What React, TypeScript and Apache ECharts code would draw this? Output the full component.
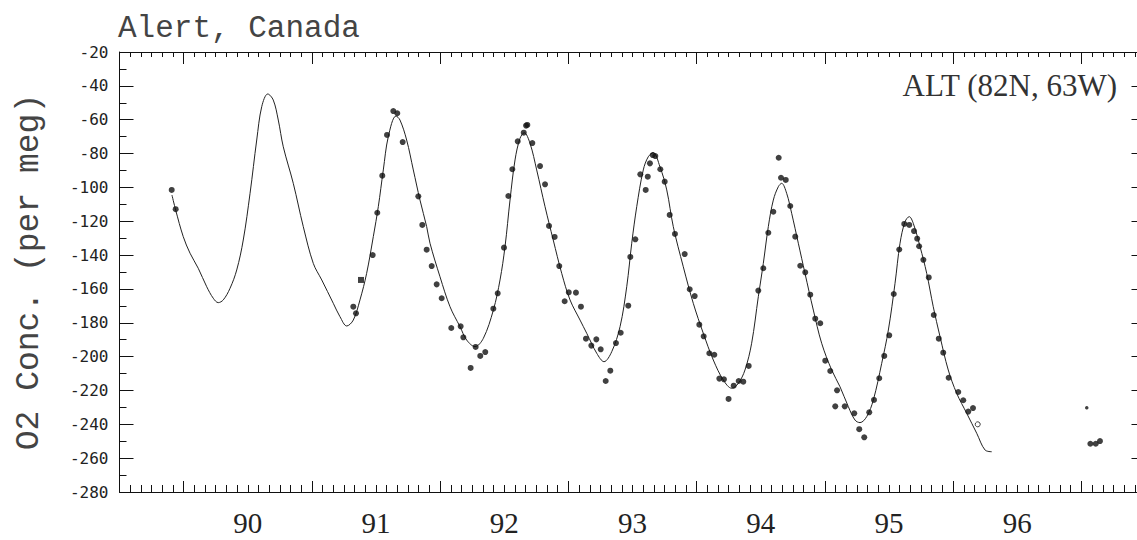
import React, { useEffect, useRef } from "react";
import * as echarts from "echarts";

// Fitted seasonal curve (decimal year, per meg)
const fitCurve: number[][] = [
  [1989.909, -104.5], [1989.938, -113.4], [1989.997, -129.1], [1990.05, -138.9], [1990.114, -147.8],
  [1990.18, -158.7], [1990.231, -165.5], [1990.27, -168.1], [1990.309, -166.5], [1990.362, -159.6],
  [1990.414, -148.8], [1990.465, -131.1], [1990.518, -103.5], [1990.57, -72], [1990.609, -52.3],
  [1990.656, -44.8], [1990.699, -48.4], [1990.738, -60.2], [1990.777, -76], [1990.855, -97.6],
  [1990.933, -123.2], [1991.011, -144.9], [1991.077, -154.7], [1991.167, -168.5], [1991.219, -176.4],
  [1991.272, -181.9], [1991.323, -178.4], [1991.375, -166.5], [1991.427, -150.8], [1991.479, -129.1],
  [1991.518, -111.4], [1991.557, -89.7], [1991.596, -70], [1991.656, -57.8], [1991.687, -60.2],
  [1991.739, -72], [1991.791, -89.7], [1991.843, -107.5], [1991.895, -123.2], [1991.921, -133],
  [1991.999, -152.8], [1992.077, -170.5], [1992.155, -182.3], [1992.207, -190.2], [1992.272, -194.1],
  [1992.337, -189.2], [1992.415, -172.5], [1992.467, -154.7], [1992.506, -135], [1992.545, -107.5],
  [1992.584, -83.8], [1992.623, -71], [1992.656, -67.7], [1992.701, -74], [1992.753, -89.7],
  [1992.818, -111.4], [1992.882, -131.1], [1992.948, -150.8], [1993.013, -166.5], [1993.091, -178.4],
  [1993.143, -186.2], [1993.221, -198], [1993.278, -203], [1993.338, -197.1], [1993.403, -182.3],
  [1993.455, -158.7], [1993.494, -133], [1993.533, -111.4], [1993.584, -89.7], [1993.623, -81.9],
  [1993.662, -79.5], [1993.714, -87.8], [1993.767, -101.5], [1993.818, -123.2], [1993.896, -146.9],
  [1993.974, -168.5], [1994.052, -186.2], [1994.13, -202], [1994.208, -213.8], [1994.274, -218.7],
  [1994.325, -215.8], [1994.377, -207.9], [1994.429, -192.1], [1994.481, -164.6], [1994.52, -144.9],
  [1994.559, -123.2], [1994.598, -107.5], [1994.637, -99.6], [1994.663, -97.6], [1994.702, -103.5],
  [1994.741, -115.3], [1994.793, -133], [1994.845, -150.8], [1994.91, -172.5], [1994.975, -192.1],
  [1995.053, -207.9], [1995.118, -217.8], [1995.183, -229.6], [1995.235, -237.5], [1995.274, -239],
  [1995.326, -235.5], [1995.378, -225.6], [1995.443, -204], [1995.495, -184.3], [1995.547, -156.7],
  [1995.586, -133], [1995.625, -120.3], [1995.658, -117.3], [1995.689, -121.2], [1995.742, -135],
  [1995.794, -150.8], [1995.845, -170.5], [1995.898, -188.2], [1995.962, -207.9], [1996.028, -221.7],
  [1996.106, -233.5], [1996.184, -245.3], [1996.249, -255.2], [1996.301, -256.2],
];

// Flask observations (filled dots)
const obsDots: number[][] = [
  [1989.907, -101.5], [1989.938, -112.9], [1991.323, -170.5], [1991.344, -174.4], [1991.474, -140],
  [1991.51, -115], [1991.549, -93.1], [1991.586, -69], [1991.635, -54.9], [1991.666, -56.2],
  [1991.708, -73.2], [1991.83, -105.3], [1991.861, -122.2], [1991.895, -136.8], [1991.934, -146.5],
  [1991.973, -157.3], [1992.012, -165.5], [1992.087, -183.1], [1992.16, -182.1], [1992.181, -188.6],
  [1992.238, -206.7], [1992.277, -194.3], [1992.313, -199.6], [1992.352, -197.3], [1992.415, -171.7],
  [1992.449, -162.6], [1992.498, -135.6], [1992.532, -105.1], [1992.563, -89.3], [1992.605, -72.8],
  [1992.652, -67.7], [1992.67, -63.5], [1992.68, -63.1], [1992.719, -73.8], [1992.779, -87.4],
  [1992.818, -98.2], [1992.849, -122.8], [1992.893, -129.3], [1992.929, -146.5], [1992.971, -167.3],
  [1993.003, -162], [1993.059, -162.2], [1993.098, -170.5], [1993.137, -189.4], [1993.179, -193.5],
  [1993.218, -189.8], [1993.252, -195.7], [1993.291, -214.4], [1993.327, -208.3], [1993.371, -192],
  [1993.408, -185.9], [1993.467, -169.9], [1993.483, -141.1], [1993.522, -130.7], [1993.561, -92.3],
  [1993.603, -101.5], [1993.619, -93.7], [1993.636, -85.8], [1993.658, -80.9], [1993.678, -81.5],
  [1993.717, -89.3], [1993.751, -96.6], [1993.79, -116.3], [1993.831, -127.5], [1993.907, -139.4],
  [1993.946, -160.2], [1993.985, -164.2], [1994.021, -181.1], [1994.055, -188], [1994.099, -198],
  [1994.138, -198.9], [1994.177, -213], [1994.213, -213.4], [1994.249, -225], [1994.289, -217.2],
  [1994.328, -214.4], [1994.364, -214.8], [1994.406, -205.5], [1994.481, -161], [1994.52, -147.8],
  [1994.559, -126.8], [1994.598, -114.4], [1994.64, -82.5], [1994.658, -94.3], [1994.695, -95.6],
  [1994.73, -111], [1994.769, -129.1], [1994.808, -146.3], [1994.847, -150.2], [1994.886, -163.4],
  [1994.925, -177.6], [1994.964, -180.3], [1995.003, -202.4], [1995.042, -208.5], [1995.095, -219.9],
  [1995.081, -229.4], [1995.155, -229.4], [1995.229, -233.5], [1995.268, -242.9], [1995.307, -247.7],
  [1995.346, -232.9], [1995.383, -225.6], [1995.424, -212.8], [1995.463, -199.6], [1995.502, -187.4],
  [1995.537, -163], [1995.58, -136.7], [1995.619, -121.6], [1995.658, -122.2], [1995.695, -125.8],
  [1995.72, -130.3], [1995.735, -134.8], [1995.768, -142.8], [1995.81, -153.2], [1995.849, -175.4],
  [1995.888, -189.4], [1995.923, -197.7], [1995.965, -212.5], [1996.04, -220.9], [1996.079, -225.8],
  [1996.118, -232.5], [1996.155, -230.4],
  [1997.07, -251.5], [1997.112, -251.5], [1997.145, -249.9],
];
const obsSquare: number[][] = [[1991.383, -154.7]];
const obsOpen: number[][] = [[1996.192, -240]];
const obsSmall: number[][] = [[1997.042, -230.2]];

// Axis ticks and labels
const yearTicks = [1990, 1991, 1992, 1993, 1994, 1995, 1996, 1997];
const yearLabelPos = [1990.5, 1991.5, 1992.5, 1993.5, 1994.5, 1995.5, 1996.5];
const monthTicks: number[] = [];
for (let i = 0; i <= 96; i++) monthTicks.push(1989.5 + i / 12);

const X_MIN = 1989.5;
const X_MAX = 1997.5;
const Y_MIN = -280;
const Y_MAX = -20;
const AX = "#111";

export default function App() {
  const ref = useRef<HTMLDivElement>(null);
  useEffect(() => {
    const chart = echarts.init(ref.current!, null, { renderer: "svg" });
    const gridRect = { left: 119.5, top: 52, width: 1026, height: 440 };
    const baseX = {
      type: "value" as const,
      min: X_MIN,
      max: X_MAX,
      splitLine: { show: false },
    };
    const option: any = {
      animation: false,
      backgroundColor: "#fff",
      title: {
        text: "Alert, Canada",
        left: 118,
        top: 13,
        padding: 0,
        textStyle: { fontFamily: "Liberation Mono", fontSize: 31, fontWeight: "normal", color: "#444" },
      },
      graphic: [
        {
          type: "text",
          x: 1117,
          y: 85,
          style: {
            text: "ALT (82N, 63W)",
            align: "right",
            verticalAlign: "middle",
            fontFamily: "Liberation Serif",
            fontSize: 31,
            fill: "#333",
          },
        },
      ],
      grid: [{ ...gridRect }, { ...gridRect }],
      xAxis: [
        {
          ...baseX,
          gridIndex: 0,
          position: "bottom",
          axisLine: { show: true, onZero: false, lineStyle: { color: AX, width: 1 } },
          axisTick: { show: true, inside: true, length: 11, customValues: yearTicks, lineStyle: { color: AX } },
          axisLabel: {
            show: true,
            customValues: yearLabelPos,
            formatter: (v: number) => String(Math.floor(v)).slice(2),
            margin: 16,
            fontFamily: "Liberation Serif",
            fontSize: 29,
            color: "#222",
          },
        },
        {
          ...baseX,
          gridIndex: 0,
          position: "top",
          axisLine: { show: true, onZero: false, lineStyle: { color: AX, width: 1 } },
          axisTick: { show: true, inside: true, length: 12, customValues: yearTicks, lineStyle: { color: AX } },
          axisLabel: { show: false },
        },
        {
          ...baseX,
          gridIndex: 1,
          position: "bottom",
          axisLine: { show: false, onZero: false },
          axisTick: { show: true, inside: true, length: 7, customValues: monthTicks, lineStyle: { color: AX } },
          axisLabel: { show: false },
        },
        {
          ...baseX,
          gridIndex: 1,
          position: "top",
          axisLine: { show: false, onZero: false },
          axisTick: { show: true, inside: true, length: 5, customValues: monthTicks, lineStyle: { color: AX } },
          axisLabel: { show: false },
        },
      ],
      yAxis: [
        {
          type: "value",
          gridIndex: 0,
          position: "left",
          min: Y_MIN,
          max: Y_MAX,
          interval: 20,
          axisLine: { show: true, onZero: false, lineStyle: { color: AX, width: 1 } },
          axisTick: { show: true, inside: true, length: 14, lineStyle: { color: AX } },
          minorTick: { show: true, splitNumber: 2, length: 7, lineStyle: { color: AX } },
          splitLine: { show: false },
          minorSplitLine: { show: false },
          axisLabel: { margin: 11, fontFamily: "DejaVu Sans Mono", fontSize: 16, color: "#222" },
          name: "O2 Conc. (per meg)",
          nameLocation: "middle",
          nameGap: 74,
          nameTextStyle: { fontFamily: "Liberation Mono", fontSize: 33, color: "#444" },
        },
        {
          type: "value",
          gridIndex: 0,
          position: "right",
          min: Y_MIN,
          max: Y_MAX,
          interval: 20,
          axisLine: { show: true, onZero: false, lineStyle: { color: AX, width: 1 } },
          axisTick: { show: true, inside: true, length: 14, lineStyle: { color: AX } },
          minorTick: { show: true, splitNumber: 2, length: 7, lineStyle: { color: AX } },
          splitLine: { show: false },
          axisLabel: { show: false },
        },
        { type: "value", gridIndex: 1, min: Y_MIN, max: Y_MAX, show: false },
      ],
      series: [
        {
          type: "line",
          xAxisIndex: 0,
          yAxisIndex: 0,
          data: fitCurve,
          symbol: "none",
          showSymbol: false,
          smooth: 0.35,
          lineStyle: { color: "#222", width: 1 },
          silent: true,
          z: 2,
        },
        {
          type: "scatter",
          xAxisIndex: 0,
          yAxisIndex: 0,
          data: obsDots,
          symbol: "circle",
          symbolSize: 6,
          itemStyle: { color: "#111" },
          z: 3,
        },
        {
          type: "scatter",
          xAxisIndex: 0,
          yAxisIndex: 0,
          data: obsSquare,
          symbol: "rect",
          symbolSize: 6,
          itemStyle: { color: "#111" },
          z: 3,
        },
        {
          type: "scatter",
          xAxisIndex: 0,
          yAxisIndex: 0,
          data: obsOpen,
          symbol: "circle",
          symbolSize: 5,
          itemStyle: { color: "#fff", borderColor: "#111", borderWidth: 1 },
          z: 3,
        },
        {
          type: "scatter",
          xAxisIndex: 0,
          yAxisIndex: 0,
          data: obsSmall,
          symbol: "circle",
          symbolSize: 3.5,
          itemStyle: { color: "#111" },
          z: 3,
        },
      ],
    };
    chart.setOption(option);
    return () => chart.dispose();
  }, []);
  return (
    <div
      style={{
        position: "fixed",
        left: 0,
        top: 0,
        width: 1137,
        height: 540,
        overflow: "hidden",
        background: "#fff",
      }}
    >
      <div ref={ref} style={{ width: 1150, height: 540 }} />
    </div>
  );
}
